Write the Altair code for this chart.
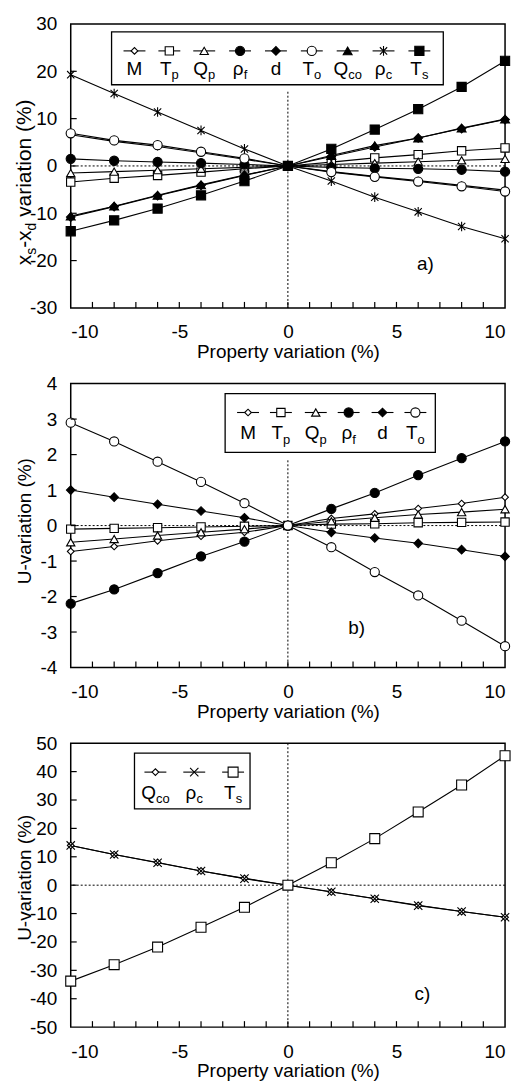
import altair as alt
import pandas as pd

# ---------------- data ----------------
X = [-10, -8, -6, -4, -2, 0, 2, 4, 6, 8, 10]

# panel a) xs-xd variation (%)
A_M   = [6.6, 5.2, 4.1, 2.8, 1.4, 0, -1.2, -2.2, -3.1, -4.1, -5.1]
A_TP  = [-3.4, -2.6, -2.0, -1.3, -0.6, 0, 0.8, 1.7, 2.4, 3.2, 3.8]
A_QP  = [-1.5, -1.2, -0.9, -0.6, -0.3, 0, 0.3, 0.6, 0.9, 1.2, 1.5]
A_RF  = [1.5, 1.1, 0.85, 0.6, 0.3, 0, -0.3, -0.5, -0.6, -0.8, -1.2]
A_D   = [-10.8, -8.6, -6.3, -4.1, -2.0, 0, 2.0, 4.0, 5.9, 7.9, 9.8]
A_TO  = [6.9, 5.4, 4.4, 3.0, 1.6, 0, -1.3, -2.3, -3.3, -4.3, -5.4]
A_QCO = [-10.6, -8.5, -6.2, -4.0, -1.9, 0, 2.2, 4.3, 5.9, 8.0, 9.9]
A_RC  = [19.3, 15.3, 11.4, 7.5, 3.6, 0, -3.2, -6.6, -9.7, -12.8, -15.4]
A_TS  = [-13.8, -11.5, -9.0, -6.2, -3.2, 0, 3.6, 7.7, 12.0, 16.7, 22.2]

# panel b) U-variation (%)
B_M  = [-0.73, -0.59, -0.43, -0.30, -0.19, 0, 0.20, 0.33, 0.48, 0.62, 0.80]
B_TP = [-0.10, -0.08, -0.06, -0.04, -0.02, 0, 0.04, 0.05, 0.08, 0.09, 0.10]
B_QP = [-0.47, -0.38, -0.28, -0.19, -0.10, 0, 0.12, 0.22, 0.31, 0.38, 0.46]
B_RF = [-2.20, -1.80, -1.34, -0.87, -0.45, 0, 0.47, 0.92, 1.42, 1.90, 2.37]
B_D  = [1.00, 0.80, 0.60, 0.41, 0.22, 0, -0.19, -0.35, -0.50, -0.68, -0.87]
B_TO = [2.90, 2.37, 1.80, 1.23, 0.63, 0, -0.61, -1.31, -1.97, -2.68, -3.40]

# panel c) U-variation (%)
C_QCO = [14.0, 10.8, 8.0, 5.0, 2.4, 0, -2.4, -4.7, -7.1, -9.3, -11.3]
C_RC  = [14.0, 10.8, 7.9, 5.0, 2.3, 0, -2.3, -4.8, -7.2, -9.3, -11.3]
C_TS  = [-33.8, -28.0, -21.8, -14.8, -7.8, 0, 7.9, 16.4, 25.8, 35.3, 45.6]

# legend labels (main, subscript)
LAB = {"M": ("M", ""), "Tp": ("T", "p"), "Qp": ("Q", "p"), "rf": ("\u03c1", "f"),
       "d": ("d", ""), "To": ("T", "o"), "Qco": ("Q", "co"), "rc": ("\u03c1", "c"),
       "Ts": ("T", "s")}

# ---------------- styles ----------------
FONT = "Liberation Sans"
W, H = 436, 285
FS, SFS, SDY = 19, 13, 4.5
STAR = "M-0.75,-0.75L0.75,0.75M-0.75,0.75L0.75,-0.75M0,-1L0,1"
CROSS = "M-1,-1L1,1M-1,1L1,-1"

STYLE_AB = {
    "M": ("diamond", "white", 45), "Tp": ("square", "white", 70),
    "Qp": ("triangle-up", "white", 70), "rf": ("circle", "black", 85),
    "d": ("diamond", "black", 75), "To": ("circle", "white", 85),
    "Qco": ("triangle-up", "black", 80), "rc": (STAR, "transparent", 95),
    "Ts": ("square", "black", 85),
}
STYLE_C = {"Qco": ("diamond", "white", 45), "rc": (CROSS, "transparent", 70),
           "Ts": ("square", "white", 100)}

AW = {' ': 278, '(': 333, ')': 333, '%': 889, '-': 333, 'U': 722, 'M': 833, 'T': 611,
      'Q': 778, 'P': 667, 'a': 556, 'b': 556, 'c': 500, 'd': 556, 'e': 556, 'f': 278,
      'i': 222, 'n': 556, 'o': 556, 'p': 556, 'r': 333, 's': 500, 't': 278, 'v': 500,
      'x': 500, 'y': 500, '\u03c1': 578}


def tw(s, fs):
    return sum(AW.get(c, 556) for c in s) * fs / 1000.0


def htext(main, sub, cx, base):
    wm, ws = tw(main, FS), tw(sub, SFS)
    x0 = cx - (wm + ws) / 2
    out = [dict(px=x0, py=base, t=main, fs=FS, ang=0)]
    if sub:
        out.append(dict(px=x0 + wm, py=base + SDY, t=sub, fs=SFS, ang=0))
    return out


def vtext(pieces, px, yc):
    total = sum(tw(t, f) for t, f, d in pieces)
    y = yc + total / 2
    out = []
    for t, f, d in pieces:
        lead = len(t) - len(t.lstrip(" "))
        y -= tw(" " * lead, f)
        s = t.lstrip(" ")
        out.append(dict(px=px + d, py=y, t=s, fs=f, ang=270))
        y -= tw(s, f)
    return out


LABEL_EXPR = "'' + datum.value"


def panel(series, style, ydom, yvals, leg_keys, leg_box, leg_x, leg_my,
          leg_base, tag, tag_xy, title_pieces, title_yc, vtop):
    rows = []
    for key, vals in series:
        shp, fil, sz = style[key]
        for xv, yv in zip(X, vals):
            rows.append(dict(x=xv, y=yv, s=key, shp=shp, fil=fil, sz=sz))
    df = pd.DataFrame(rows)

    xs = alt.Scale(domain=[-10, 10], nice=False)
    ys = alt.Scale(domain=ydom, nice=False)
    xax = alt.Axis(values=[-10, -5, 0, 5, 10], title="Property variation (%)",
                   labelPadding=15, titlePadding=1, tickSize=0, labelExpr=LABEL_EXPR)
    yax = alt.Axis(values=yvals, title=None, labelPadding=14, tickSize=0,
                   labelExpr=LABEL_EXPR)
    XE = alt.X("x:Q", scale=xs, axis=xax)
    YE = alt.Y("y:Q", scale=ys, axis=yax)
    PX = lambda f: alt.X(f, scale=None, axis=None)
    PY = lambda f: alt.Y(f, scale=None, axis=None)

    hline = alt.Chart(pd.DataFrame({"y": [0]})).mark_rule(
        color="black", strokeWidth=1, strokeDash=[2, 2]).encode(y=YE)
    vline = alt.Chart(pd.DataFrame({"x": [0]})).mark_rule(
        color="black", strokeWidth=1, strokeDash=[2, 2]).encode(
        x=XE, y=alt.value(vtop), y2=alt.value(H))
    lines = alt.Chart(df).mark_line(color="black", strokeWidth=1.1).encode(
        x=XE, y=YE, detail="s:N", order="x:Q")
    pts = alt.Chart(df).mark_point(filled=True, stroke="black", strokeWidth=1.1,
                                   opacity=1).encode(
        x=XE, y=YE, shape=alt.Shape("shp:N", scale=None),
        fill=alt.Fill("fil:N", scale=None), size=alt.Size("sz:Q", scale=None))

    xt = pd.DataFrame({"x": [v for v in range(-9, 10)]})
    xticks = alt.Chart(xt).mark_rule(color="black", strokeWidth=1.2).encode(
        x=XE, y=alt.value(H), y2=alt.value(H - 6))
    yt = pd.DataFrame({"y": [v for v in yvals if v not in ydom]})
    yticks = alt.Chart(yt).mark_rule(color="black", strokeWidth=1.2).encode(
        y=YE, x=alt.value(0), x2=alt.value(6))

    bx0, by0, bx1, by1 = leg_box
    box = alt.Chart(pd.DataFrame({"a": [0]})).mark_rect(
        fill="white", stroke="black", strokeWidth=1.3).encode(
        x=alt.value(bx0), x2=alt.value(bx1), y=alt.value(by0), y2=alt.value(by1))

    lrows, trows = [], []
    for k, cx in zip(leg_keys, leg_x):
        shp, fil, sz = style[k]
        lrows.append(dict(px=cx, p1=cx - 11, p2=cx + 11, py=leg_my, shp=shp, fil=fil, sz=sz))
        trows += htext(LAB[k][0], LAB[k][1], cx, leg_base)
    ldf = pd.DataFrame(lrows)
    lseg = alt.Chart(ldf).mark_rule(color="black", strokeWidth=1.1).encode(
        x=PX("p1:Q"), x2="p2:Q", y=PY("py:Q"))
    lpts = alt.Chart(ldf).mark_point(filled=True, stroke="black", strokeWidth=1.1,
                                     opacity=1).encode(
        x=PX("px:Q"), y=PY("py:Q"), shape=alt.Shape("shp:N", scale=None),
        fill=alt.Fill("fil:N", scale=None), size=alt.Size("sz:Q", scale=None))

    tw_tag = tw(tag, FS)
    trows.append(dict(px=tag_xy[0] - tw_tag / 2, py=tag_xy[1], t=tag, fs=FS, ang=0))
    trows += vtext(title_pieces, -40, title_yc)
    tdf = pd.DataFrame(trows)
    texts = alt.Chart(tdf).mark_text(font=FONT, align="left", baseline="alphabetic",
                                     color="black").encode(
        x=PX("px:Q"), y=PY("py:Q"), text="t:N",
        size=alt.Size("fs:Q", scale=None), angle=alt.Angle("ang:Q", scale=None))

    return alt.layer(hline, vline, lines, pts, xticks, yticks, box, lseg, lpts,
                     texts).properties(width=W, height=H)


TFS = 21
TITLE_A = [("x", TFS, 0), ("s", 14, 5), ("-x", TFS, 0), ("d", 14, 5),
           (" variation (%)", TFS, 0)]
TITLE_U = [("U-variation (%)", FS, 0)]

pa = panel([("M", A_M), ("Tp", A_TP), ("Qp", A_QP), ("rf", A_RF), ("d", A_D),
            ("To", A_TO), ("Qco", A_QCO), ("rc", A_RC), ("Ts", A_TS)],
           STYLE_AB, [-30, 30], [-30, -20, -10, 0, 10, 20, 30],
           ["M", "Tp", "Qp", "rf", "d", "To", "Qco", "rc", "Ts"],
           (41, 8, 374, 61), [64, 99, 134, 170, 206, 242, 278, 314, 350], 27, 50.8,
           "a)", (356, 246.8), TITLE_A, 159, 68)

pb = panel([("M", B_M), ("Tp", B_TP), ("Qp", B_QP), ("rf", B_RF), ("d", B_D),
            ("To", B_TO)],
           STYLE_AB, [-4, 4], [-4, -3, -2, -1, 0, 1, 2, 3, 4],
           ["M", "Tp", "Qp", "rf", "d", "To"],
           (155, 10, 366, 69), [178, 211, 246, 279, 313, 346], 29, 55.8,
           "b)", (287, 251.8), TITLE_U, 138, 77)

pc = panel([("Qco", C_QCO), ("rc", C_RC), ("Ts", C_TS)],
           STYLE_C, [-50, 50], [-50, -40, -30, -20, -10, 0, 10, 20, 30, 40, 50],
           ["Qco", "rc", "Ts"],
           (64, 10, 180, 66), [85, 124, 163], 29, 55.8,
           "c)", (353, 257.8), TITLE_U, 135, 0)

chart = alt.vconcat(pa, pb, pc, spacing=11).properties(
    padding={"left": 13, "top": 12, "right": 5, "bottom": 0}
).configure_view(stroke="black", strokeWidth=1.5).configure_axis(
    labelFont=FONT, labelFontSize=FS, labelColor="black", domain=False,
    ticks=False, grid=False, titleFont=FONT, titleFontSize=FS,
    titleFontWeight="normal", titleColor="black"
)

chart.save("out.html", embed_options={"renderer": "svg", "actions": False})
